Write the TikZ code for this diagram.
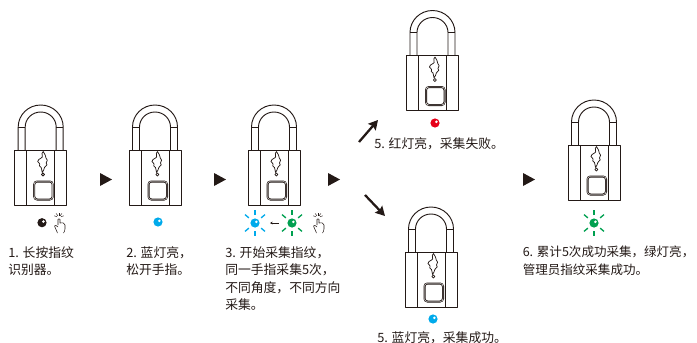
\documentclass[tikz,border=0pt]{standalone}
\usepackage{fontspec}
\setmainfont{Noto Sans CJK SC}
\usetikzlibrary{arrows.meta}
\definecolor{ledblue}{RGB}{0,170,235}
\definecolor{ledgreen}{RGB}{0,160,80}
\definecolor{ledred}{RGB}{230,0,25}
\definecolor{ink}{RGB}{35,25,22}
\newcommand{\fwc}{\char"FF0C\relax}
\tikzset{
  x=0.75pt,y=-0.75pt,
  lockline/.style={draw=ink,line width=0.7pt,line join=round},
  caption/.style={align=left,anchor=north west,inner sep=0pt,font=\fontsize{9.6pt}{13.2pt}\selectfont,text=ink},
  lockpad/.pic={
    % origin: left top corner of body
    \draw[lockline,fill=white] (0,0) rectangle (52,55);
    \draw[lockline] (12,0) -- (12,55) (40,0) -- (40,55);
    \draw[lockline] (3.5,0) -- (3.5,-23) arc[start angle=180,end angle=360,x radius=22.5,y radius=22] -- (48.5,0);
    \draw[lockline] (10.5,0) -- (10.5,-23) arc[start angle=180,end angle=360,x radius=15.5,y radius=15] -- (41.5,0);
    \draw[lockline] (3.5,-23) -- (10.5,-23) (41.5,-23) -- (48.5,-23);
    \draw[draw=ink,line width=1.5pt,rounded corners=2.2pt] (19.5,31.5) rectangle (38,49.5);
    \draw[draw=white,line width=0.35pt,rounded corners=2pt] (19.5,31.5) rectangle (38,49.5);
    \draw[lockline,line width=0.55pt] (28.5,1.5) .. controls (25.5,4) and (29.5,7) .. (26.5,8)
      .. controls (24.5,9) and (23,10) .. (23,11.5) .. controls (23,13) and (25.5,12.5) .. (25,14)
      .. controls (24,15.5) and (25,16.5) .. (26.5,17.5) .. controls (27,19) and (27.2,21) .. (27.5,22.5)
      .. controls (29,21) and (29.2,19) .. (29.8,17.5) .. controls (32,15.5) and (33.5,14) .. (31.5,13)
      .. controls (33.5,11) and (32.5,9) .. (31.3,8) .. controls (31.3,6) and (30,4) .. (28.5,1.5) -- cycle;
    \draw[lockline,line width=0.55pt] (28.3,24.5) circle[radius=1.5];
  },
  arrowhead/.pic={\fill[ink] (0,-6.5) -- (12,0) -- (0,6.5) -- cycle;},
  fingerhand/.pic={
    \draw[ink,line width=0.4pt,line join=round]
      (-2,3) -- (-2,-2.5) .. controls (-2,-3.5) and (0,-3.5) .. (0,-2.5) -- (0,1)
      .. controls (2,0) and (5,1) .. (5,3) -- (5,7) .. controls (5,9) and (4,10) .. (3.5,11)
      (-2.5,11) .. controls (-3,9) and (-5,6) .. (-5.5,4) .. controls (-5.5,3) and (-3,3) .. (-2,5);
    \foreach \a in {-160,-125,-90,-55,-20}
      \draw[ink,line width=0.35pt] (-1,-4.5) ++(\a:2) -- ++(\a:3);
  },
  burst/.pic={
    \foreach \a in {40,90,140,220,270,320}
      \draw[pic actions,line width=1pt] (\a:8) -- (\a:13);
  },
}
\newcommand{\lampdot}[3]{% colour, x, y
  \fill[#1] (#2,#3) circle[radius=4.6];
  \fill[white] (#2+1.4,#3-1.2) circle[radius=1.4];
}
\begin{document}
\begin{tikzpicture}
\useasboundingbox (0,0) rectangle (697,343);
\pic (lockA) at (14.7,150) {lockpad};
\pic (lockB) at (129,150) {lockpad};
\pic (lockC) at (248,150) {lockpad};
\pic (lockD) at (406.5,55.5) {lockpad};
\pic (lockE) at (405,252) {lockpad};
\pic (lockF) at (568,145) {lockpad};
% lamps
\lampdot{ink}{42}{222.7}
\lampdot{ledblue}{158}{222}
\lampdot{ledred}{435}{123}
\lampdot{ledblue}{433}{319}
\lampdot{ledgreen}{594}{223}
\lampdot{ledblue}{255}{223}
\lampdot{ledgreen}{292}{223}
\pic[draw=ledblue] at (255,223) {burst};
\pic[draw=ledgreen] at (292,223) {burst};
\pic[draw=ledgreen] at (594,223) {burst};
\coordinate (swapL) at (270,223);
\coordinate (swapR) at (279,223);
\draw[ink,line width=0.4pt,{Stealth[length=2pt,width=2pt]}-] (swapL) -- (swapR);
\pic at (60,222) {fingerhand};
\pic at (319,222) {fingerhand};
% arrows
\pic at (100,179.5) {arrowhead};
\pic at (214,179.5) {arrowhead};
\pic at (328,179.5) {arrowhead};
\pic at (523,179.5) {arrowhead};
\coordinate (upS) at (359,142);
\coordinate (upE) at (378,120);
\coordinate (dnS) at (365,195);
\coordinate (dnE) at (385,216);
\draw[ink,line width=1.7pt,-{Stealth[length=7pt,width=7.5pt,inset=1pt]}] (upS) -- (upE);
\draw[ink,line width=1.7pt,-{Stealth[length=7pt,width=7.5pt,inset=1pt]}] (dnS) -- (dnE);
% captions
\node[caption] (t1) at (8,246) {1. 长按指纹\\识别器。};
\node[caption] (t2) at (126,246) {2. 蓝灯亮\fwc\\松开手指。};
\node[caption] (t3) at (225,246) {3. 开始采集指纹\fwc\\同一手指采集5次\fwc\\不同角度\fwc 不同方向\\采集。};
\node[caption] (t4) at (374,137) {5. 红灯亮\fwc 采集失败。};
\node[caption] (t5) at (377,331) {5. 蓝灯亮\fwc 采集成功。};
\node[caption,font=\fontsize{9.4pt}{13.2pt}\selectfont] (t6) at (522.5,246) {6. 累计5次成功采集\fwc 绿灯亮\fwc\\管理员指纹采集成功。};
\end{tikzpicture}
\end{document}
